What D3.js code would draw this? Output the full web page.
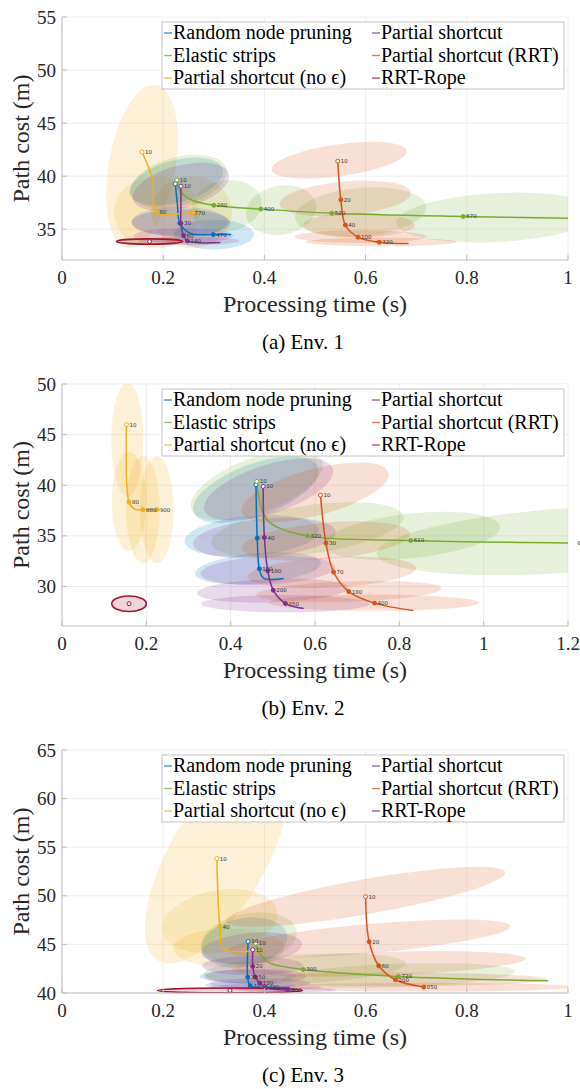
<!DOCTYPE html>
<html><head><meta charset="utf-8">
<script src="https://cdn.jsdelivr.net/npm/d3@7"></script>
<style>
body{margin:0;background:#fff}
</style>
</head><body>
<svg id="c" width="580" height="1089"></svg>
<script>
// ---------- data ----------
const seriesNames = ["Random node pruning","Elastic strips","Partial shortcut (no ϵ)","Partial shortcut","Partial shortcut (RRT)","RRT-Rope"];
const seriesColors = ["#0072BD","#77AC30","#EDB120","#7E2F8E","#D95319","#A2142F"];
const captions = ["(a) Env. 1","(b) Env. 2","(c) Env. 3"];
const xLabel = "Processing time (s)";
const yLabel = "Path cost (m)";

const xTicks1 = [0,0.2,0.4,0.6,0.8,1];
const xTicks2 = [0,0.2,0.4,0.6,0.8,1,1.2];
const xTicks3 = [0,0.2,0.4,0.6,0.8,1];
const yTicks1 = [35,40,45,50,55];
const yTicks2 = [30,35,40,45,50];
const yTicks3 = [40,45,50,55,60,65];
const xDomain1 = [0,1], xDomain2 = [0,1.2], xDomain3 = [0,1];
const yDomain1 = [32.1,55], yDomain2 = [26.1,50], yDomain3 = [40,65];

// lines: [time, cost, label] (label null = no marker, "" = unlabeled marker); order = series order
const env1Lines = [
  [[0.224,39.28,""],[0.228,37.4,null],[0.233,35.56,""],[0.254,34.6,null],[0.299,34.5,"470"],[0.334,34.5,null]],
  [[0.227,39.63,"10"],[0.231,38.75,null],[0.254,37.8,null],[0.3,37.25,"280"],[0.393,36.9,"400"],[0.533,36.51,"520"],[0.793,36.2,"670"],[1.0,36.04,null]],
  [[0.158,42.28,"10"],[0.179,39.7,null],[0.187,36.6,"80"],[0.256,36.56,"770"],[0.274,36.56,null]],
  [[0.235,39.06,"10"],[0.235,37.3,null],[0.235,35.56,"30"],[0.24,34.4,"60"],[0.248,33.9,"140"],[0.313,33.75,null]],
  [[0.545,41.42,"10"],[0.551,37.77,"20"],[0.56,35.4,"40"],[0.585,34.25,"100"],[0.627,33.77,"320"],[0.685,33.65,null]],
  [[0.173,33.84,""]]
];
const env2Lines = [
  [[0.46,40.05,""],[0.461,37.5,null],[0.463,34.78,""],[0.468,31.75,"100"],[0.478,30.83,null],[0.525,30.8,null]],
  [[0.462,40.38,"10"],[0.474,37.58,null],[0.494,36.27,null],[0.582,35.0,"320"],[0.827,34.55,"610"],[1.215,34.3,"880"]],
  [[0.153,45.98,"10"],[0.159,38.34,"80"],[0.172,37.64,null],[0.192,37.58,"880"],[0.225,37.58,"900"],[0.232,37.58,null]],
  [[0.477,39.88,"10"],[0.48,34.84,"40"],[0.488,31.55,"180"],[0.501,29.64,"200"],[0.53,28.32,"850"],[0.573,27.83,null]],
  [[0.613,39.03,"10"],[0.626,34.29,"30"],[0.644,31.43,"70"],[0.68,29.5,"180"],[0.741,28.36,"400"],[0.833,27.63,null]],
  [[0.159,28.3,""]]
];
const env3Lines = [
  [[0.368,45.3,"10"],[0.367,41.64,"30"],[0.372,40.75,"70"],[0.41,40.6,null],[0.45,40.57,null]],
  [[0.383,45.13,"10"],[0.386,44.6,null],[0.395,43.76,null],[0.411,43.07,null],[0.477,42.42,"300"],[0.665,41.7,"720"],[0.961,41.25,null]],
  [[0.306,53.83,"10"],[0.312,46.84,"40"],[0.32,44.52,null],[0.4,44.45,null]],
  [[0.377,44.45,"10"],[0.377,42.73,"20"],[0.382,41.64,"50"],[0.391,41.02,"120"],[0.403,40.57,"280"],[0.447,40.3,"400"]],
  [[0.6,49.9,"10"],[0.607,45.27,"20"],[0.626,42.8,"60"],[0.659,41.36,"200"],[0.715,40.61,"850"]],
  [[0.332,40.26,""]]
];

// spread ellipses: [series, meanTime, meanCost, sdTime, sdCost, tiltDeg]
const env1Ellipses = [
  [2,0.158,40.9,0.066,7.8,10],[2,0.187,36.6,0.085,3.4,0],[2,0.256,36.6,0.08,3.4,0],
  [0,0.226,39.5,0.095,2.0,-15],[0,0.233,35.7,0.095,1.4,0],[0,0.3,34.5,0.079,1.4,0],
  [1,0.23,39.5,0.098,2.3,-15],[1,0.325,37.2,0.07,2.4,-10],[1,0.433,36.8,0.07,2.3,-10],[1,0.59,36.6,0.13,2.3,-5],[1,0.86,36.1,0.2,2.3,-3],
  [3,0.235,39.0,0.098,2.0,-15],[3,0.235,35.6,0.098,1.25,0],[3,0.24,34.4,0.098,0.7,0],[3,0.25,33.9,0.1,0.4,0],
  [4,0.548,41.5,0.135,1.5,-8],[4,0.56,37.9,0.13,1.6,-5],[4,0.587,35.4,0.11,1.15,0],[4,0.59,34.3,0.13,0.6,0],[4,0.63,33.8,0.15,0.4,0],
  [5,0.173,33.84,0.0656,0.25,0]
];
const env2Ellipses = [
  [2,0.155,44.5,0.038,5.6,0],[2,0.159,38.4,0.041,4.9,0],[2,0.192,37.6,0.04,5.3,0],[2,0.225,37.6,0.04,5.3,0],
  [0,0.46,39.55,0.157,2.57,-20],[0,0.45,35.0,0.16,2.0,-5],[0,0.465,31.8,0.15,1.5,-5],
  [1,0.462,40.0,0.165,2.7,-20],[1,0.582,35.6,0.23,2.4,-8],[1,0.83,35.0,0.21,2.2,-6],[1,1.215,34.6,0.47,3.2,-4],
  [3,0.49,39.6,0.16,2.4,-18],[3,0.48,34.8,0.17,1.9,-5],[3,0.488,31.6,0.16,1.4,-3],[3,0.5,29.6,0.18,1.15,-2],[3,0.53,28.3,0.2,0.85,0],
  [4,0.6,39.3,0.18,2.3,-15],[4,0.626,34.5,0.2,1.8,-5],[4,0.64,31.4,0.2,1.5,-3],[4,0.68,29.5,0.22,1.0,-2],[4,0.74,28.4,0.25,0.8,0],
  [5,0.159,28.3,0.041,0.77,0]
];
const env3Ellipses = [
  [2,0.306,53.8,0.095,12.1,30],[2,0.312,47.4,0.115,3.2,-10],[2,0.33,44.6,0.11,2.0,0],
  [0,0.36,45.2,0.086,2.5,-10],[0,0.367,41.7,0.095,0.7,0],[0,0.372,40.8,0.09,0.4,0],
  [1,0.37,45.6,0.095,2.6,-10],[1,0.48,42.5,0.2,1.5,-3],[1,0.665,41.8,0.23,1.2,-2],
  [3,0.375,44.6,0.1,1.6,-5],[3,0.377,42.8,0.1,1.0,0],[3,0.382,41.7,0.1,0.8,0],[3,0.391,41.0,0.1,0.5,0],[3,0.403,40.6,0.11,0.35,0],[3,0.443,40.35,0.1,0.3,0],
  [4,0.6,49.9,0.28,1.8,-10],[4,0.607,45.6,0.28,1.5,-5],[4,0.626,43.0,0.29,1.2,-2],[4,0.659,41.4,0.3,0.7,0],[4,0.715,40.6,0.3,0.45,0],
  [5,0.332,40.26,0.143,0.25,0]
];

// ---------- layout ----------
const FF = "Liberation Serif";
const panels = [
  {top:17, bottom:260, xd:xDomain1, yd:yDomain1, xt:xTicks1, yt:yTicks1, lines:env1Lines, ells:env1Ellipses, cap:captions[0]},
  {top:384, bottom:626, xd:xDomain2, yd:yDomain2, xt:xTicks2, yt:yTicks2, lines:env2Lines, ells:env2Ellipses, cap:captions[1]},
  {top:750, bottom:993, xd:xDomain3, yd:yDomain3, xt:xTicks3, yt:yTicks3, lines:env3Lines, ells:env3Ellipses, cap:captions[2]}
];
const L = 62, R = 568;
const svg = d3.select("#c");
svg.append("rect").attr("width",580).attr("height",1089).attr("fill","#fff");

panels.forEach((p,pi) => {
  const xs = d3.scaleLinear().domain(p.xd).range([L,R]);
  const ys = d3.scaleLinear().domain(p.yd).range([p.bottom,p.top]);
  const g = svg.append("g");
  const cid = "clip"+pi;
  svg.append("clipPath").attr("id",cid).append("rect")
    .attr("x",L).attr("y",p.top).attr("width",R-L).attr("height",p.bottom-p.top);

  // grid
  g.append("g").selectAll("line").data(p.xt).join("line")
    .attr("x1",d=>xs(d)).attr("x2",d=>xs(d)).attr("y1",p.top).attr("y2",p.bottom)
    .attr("stroke","#e6e6e6").attr("stroke-width",0.7);
  g.append("g").selectAll("line").data(p.yt).join("line")
    .attr("y1",d=>ys(d)).attr("y2",d=>ys(d)).attr("x1",L).attr("x2",R)
    .attr("stroke","#e6e6e6").attr("stroke-width",0.7);

  const plot = g.append("g").attr("clip-path",`url(#${cid})`);
  // spread ellipses
  plot.append("g").selectAll("ellipse").data(p.ells).join("ellipse")
    .attr("rx",d=>Math.abs(xs(d[1]+d[3])-xs(d[1])))
    .attr("ry",d=>Math.abs(ys(d[2]+d[4])-ys(d[2])))
    .attr("transform",d=>`translate(${xs(d[1])},${ys(d[2])}) rotate(${d[5]})`)
    .attr("fill",d=>seriesColors[d[0]]).attr("fill-opacity",0.18)
    .attr("stroke",d=>d[0]===5?seriesColors[5]:"none").attr("stroke-width",1.6);

  // lines
  const lineGen = d3.line().x(d=>xs(d[0])).y(d=>ys(d[1])).curve(d3.curveCatmullRom.alpha(0.5));
  p.lines.forEach((pts,si) => {
    if (pts.length > 1)
      plot.append("path").attr("d",lineGen(pts)).attr("fill","none")
        .attr("stroke",seriesColors[si]).attr("stroke-width",1.5);
  });
  // markers
  p.lines.forEach((pts,si) => {
    const mk = pts.filter(d=>d[2]!==null);
    plot.append("g").selectAll("circle").data(mk).join("circle")
      .attr("cx",d=>xs(d[0])).attr("cy",d=>ys(d[1])).attr("r",2)
      .attr("fill",(d,i)=>i===0?"#fff":seriesColors[si])
      .attr("stroke",seriesColors[si]).attr("stroke-width",1);
  });
  // marker labels (not clipped)
  p.lines.forEach((pts,si) => {
    const mk = pts.filter(d=>d[2]);
    g.append("g").selectAll("text").data(mk).join("text")
      .style("font-family","DejaVu Sans")
      .attr("x",d=>xs(d[0])+3).attr("y",d=>ys(d[1])+2)
      .attr("font-size",5.5).attr("fill","#333")
      .text(d=>d[2]);
  });

  // axes
  const ax = g.append("g").attr("stroke","#bdbdbd").attr("stroke-width",1);
  ax.append("line").attr("x1",L).attr("x2",L).attr("y1",p.top).attr("y2",p.bottom);
  ax.append("line").attr("x1",L).attr("x2",R).attr("y1",p.bottom).attr("y2",p.bottom);
  ax.selectAll(".tx").data(p.xt).join("line").attr("x1",d=>xs(d)).attr("x2",d=>xs(d))
    .attr("y1",p.bottom).attr("y2",p.bottom-5);
  ax.selectAll(".ty").data(p.yt).join("line").attr("y1",d=>ys(d)).attr("y2",d=>ys(d))
    .attr("x1",L).attr("x2",L+5);

  g.append("g").selectAll("text").data(p.xt).join("text").style("font-family",FF)
    .attr("x",d=>xs(d)).attr("y",p.bottom+24).attr("text-anchor","middle")
    .attr("font-size",19).attr("fill","#262626")
    .text(d=>d3.format("~g")(d));
  g.append("g").selectAll("text").data(p.yt).join("text").style("font-family",FF)
    .attr("x",56).attr("y",d=>ys(d)+6.5).attr("text-anchor","end")
    .attr("font-size",19).attr("fill","#262626")
    .text(d=>d);

  g.append("text").style("font-family",FF).attr("x",(L+R)/2).attr("y",p.bottom+52).attr("text-anchor","middle")
    .attr("font-size",24).attr("fill","#262626").text(xLabel);
  g.append("text").style("font-family",FF).attr("transform",`translate(29,${(p.top+p.bottom)/2}) rotate(-90)`)
    .attr("text-anchor","middle").attr("font-size",24)
    .attr("fill","#262626").text(yLabel);
  g.append("text").style("font-family",FF).attr("x",303).attr("y",p.bottom+89).attr("text-anchor","middle")
    .attr("font-size",21).attr("fill","#000").text(p.cap);

  // legend
  const lg = g.append("g");
  const lt = p.top+5;
  lg.append("rect").attr("x",162).attr("y",lt).attr("width",402).attr("height",67)
    .attr("fill","#fff").attr("stroke","#b5b5b5").attr("stroke-width",0.8);
  seriesNames.forEach((n,i) => {
    const col = Math.floor(i/3), row = i%3;
    const x0 = col===0?164:372;
    const cy = lt + 11 + row*22.5;
    lg.append("line").attr("x1",x0).attr("x2",x0+8).attr("y1",cy).attr("y2",cy)
      .attr("stroke",seriesColors[i]).attr("stroke-width",1.4).attr("stroke-opacity",0.75);
    lg.append("text").style("font-family",FF).attr("x",x0+9).attr("y",cy+6)
      .attr("font-size",20).attr("fill","#000").text(n);
  });
});
</script>
</body></html>
